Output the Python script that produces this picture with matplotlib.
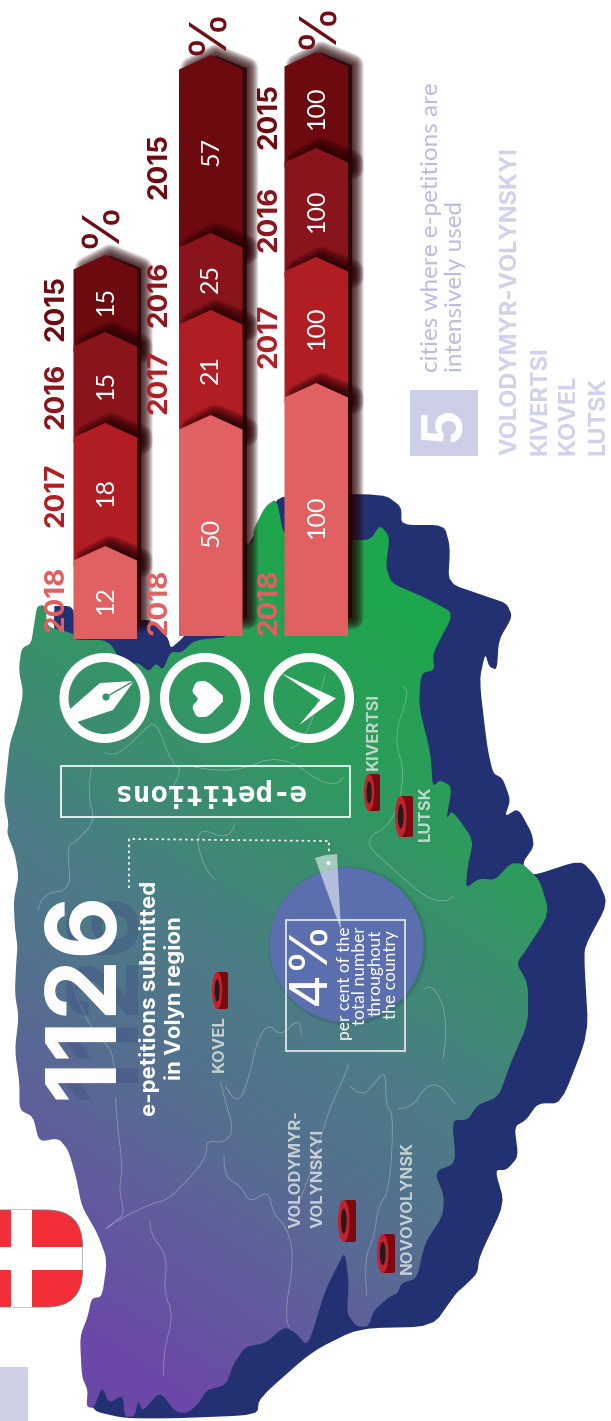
import numpy as np
from matplotlib import pyplot as plt
from matplotlib.colors import LinearSegmentedColormap
from matplotlib.patches import Circle, Ellipse, FancyBboxPatch, Polygon, Rectangle

plt.rcParams['font.family'] = ['Inter', 'DejaVu Sans']
LIGHT = ['Lato', 'DejaVu Sans']

# bars, bottom segment first
years = ['2018', '2017', '2016', '2015']
petitions = [12, 18, 15, 15]
supported = [50, 21, 25, 57]
answered = [100, 100, 100, 100]
# visible segment lengths, they do not follow the values
petitions_len = [93, 123, 91, 77]
supported_len = [221, 105, 77, 178]
answered_len = [253, 126, 109, 96]
year_colors = ['#e16061', '#b01e24', '#8a141c', '#6c0a10']

cities = ['VOLODYMYR-VOLYNSKYI', 'KIVERTSI', 'KOVEL', 'LUTSK']
share_lines = ['per cent of the', 'total number', 'throughout', 'the country']

west_a = [(108, 375), (95, 380), (88, 430), (80, 490), (55, 505), (48, 570), (60, 640), (45, 720), (25, 790),
          (18, 870), (10, 960), (22, 1030), (18, 1060), (38, 1120), (48, 1190), (35, 1260), (38, 1340), (45, 1400)]
west_b = [(42, 30), (38, 130), (48, 200), (38, 300), (50, 400), (50, 480), (85, 500), (100, 575), (150, 565),
          (175, 600), (195, 680), (210, 770), (250, 850), (275, 930), (262, 1040), (235, 1045), (225, 1100),
          (205, 1160), (210, 1280), (225, 1320), (222, 1370), (240, 1375), (262, 1310), (280, 1360), (315, 1335),
          (320, 1400), (345, 1400), (355, 1350), (365, 1385), (410, 1325), (450, 1385), (480, 1390), (510, 1360),
          (530, 1320), (580, 1305), (600, 1240), (630, 1190), (680, 1180), (730, 1130), (760, 1150), (790, 1190),
          (835, 1020), (865, 950), (885, 905), (895, 1000), (890, 1090), (915, 1130), (945, 1130), (960, 1080),
          (1000, 1040), (1020, 1030), (1030, 1000), (1070, 985), (1090, 880), (1135, 800), (1140, 740), (1115, 665),
          (1170, 640), (1160, 510), (1200, 510), (1225, 465), (1280, 440), (1310, 340), (1355, 220), (1355, 100),
          (1325, 40), (1350, 0)]
east_a = [(1410, 1300), (1385, 1200), (1340, 1150), (1310, 1150), (1270, 1200), (1230, 1195), (1195, 1225),
          (1200, 1160), (1215, 1080), (1160, 990), (1145, 1020), (1160, 920), (1130, 900), (1110, 920), (1105, 820),
          (1075, 680), (1080, 580), (1115, 570), (1110, 520), (1165, 400), (1110, 365), (1075, 345), (1005, 310),
          (990, 260), (1000, 170), (975, 135), (950, 180), (895, 180), (730, 180), (710, 55), (680, 80), (650, 150),
          (650, 190), (622, 190), (600, 470), (500, 480), (465, 518), (438, 515), (418, 570), (400, 550), (382, 575),
          (350, 545), (322, 572), (280, 480), (190, 480), (188, 460), (120, 440), (118, 380)]
back_a = [(120, 378), (190, 378), (190, 460), (280, 460), (355, 420), (385, 420), (430, 470), (440, 512), (600, 300),
          (640, 185), (690, 100), (720, 44), (985, 42), (1030, 80), (1030, 135), (1140, 135), (1155, 200), (1150, 310),
          (1250, 350), (1300, 370), (1315, 410), (1280, 480), (1275, 570), (1255, 560), (1245, 520), (1230, 600),
          (1250, 800), (1265, 880), (1290, 895), (1310, 960), (1295, 1010), (1330, 985), (1365, 1060), (1370, 1100),
          (1340, 1150), (1360, 1190), (1490, 1140), (1530, 1190), (1560, 1270), (1500, 1400)]
back_b = [(1500, 50), (1510, 250), (1440, 460), (1380, 460), (1350, 510), (1320, 530), (1330, 620), (1300, 660),
          (1270, 660), (1295, 760), (1230, 920), (1225, 970), (1190, 1010), (1170, 1030), (1110, 1130), (920, 1135),
          (800, 1205), (665, 1345), (660, 1395), (450, 1405), (320, 1405), (235, 1382), (230, 1300), (400, 800)]

borders_b = [
    [(295, 400), (300, 520), (315, 650), (305, 720), (320, 790), (300, 810), (255, 850)],
    [(255, 850), (310, 805), (390, 760), (430, 750), (490, 680), (530, 620), (530, 570), (575, 580), (600, 540),
     (575, 440), (560, 370)],
    [(385, 790), (385, 850), (430, 920), (420, 1020), (445, 1100), (420, 1200), (420, 1320)],
    [(575, 580), (575, 680), (620, 710), (640, 760), (690, 720), (700, 790), (735, 830), (755, 920), (730, 1100),
     (750, 1150)],
    [(735, 830), (790, 700), (840, 490), (880, 390), (905, 310)],
    [(880, 390), (930, 440), (960, 400), (990, 360), (990, 470), (1010, 490), (1000, 720), (970, 770), (960, 860),
     (935, 930), (945, 1100)],
    [(1000, 480), (1060, 470), (1090, 410), (1130, 400), (1190, 500)],
    [(1130, 400), (1150, 200), (1110, 100), (1075, 130)],
    [(560, 370), (610, 470), (640, 380), (660, 270), (690, 220), (720, 260), (770, 200), (775, 290)],
    [(295, 400), (290, 300), (240, 250), (180, 100), (200, 60)],
]
borders_a = [
    [(250, 810), (300, 830), (370, 750), (400, 720), (440, 850), (470, 870), (410, 980)],
    [(240, 810), (225, 950), (245, 1020), (200, 1080), (170, 1100), (185, 1230), (110, 1240), (90, 1320)],
    [(610, 1000), (590, 1080), (500, 1040), (520, 1160), (570, 1220)],
    [(1030, 610), (1050, 640), (1010, 770), (1040, 880), (1010, 1030), (930, 1080), (1000, 1160), (1120, 1280),
     (1190, 1230)],
    [(720, 820), (790, 780), (860, 470)],
    [(440, 850), (600, 880), (720, 820), (850, 930), (900, 870)],
]


def crop_a(pts):
    return [(x / 2.566, 480 + y / 3) for x, y in pts]


def crop_b(pts):
    return [(x / 2.566, 950 + y / 3) for x, y in pts]


def smooth(pts, n=2, cut=0.17):
    # corner cutting, closed outline
    pts = np.array(pts, dtype=float)
    for _ in range(n):
        nxt = np.roll(pts, -1, axis=0)
        pts = np.column_stack([(1 - cut) * pts + cut * nxt, cut * pts + (1 - cut) * nxt]).reshape(-1, 2)
    return pts


def smooth_open(pts, n=2):
    pts = np.array(pts, dtype=float)
    for _ in range(n):
        a, b = pts[:-1], pts[1:]
        pts = np.column_stack([0.75 * a + 0.25 * b, 0.25 * a + 0.75 * b]).reshape(-1, 2)
    return pts


fig = plt.figure(figsize=(6.11, 14.21), dpi=100)
ax = fig.add_axes([0, 0, 1, 1])

# map
back = smooth(crop_a(back_a) + crop_b(back_b))
ax.add_patch(Polygon(back, closed=True, fc='#233173', ec='none', zorder=1))

front = smooth(crop_a(west_a) + crop_b(west_b) + crop_a(east_a))
front_patch = Polygon(front, closed=True, fc='none', ec='none', zorder=2)
ax.add_patch(front_patch)
gx, gy = np.meshgrid(np.arange(0, 611, 2), np.arange(0, 1421, 2))
grad = (-0.55 * gx + 0.83 * gy - 289) / 771
stops = [(0, '#1ea64c'), (0.21, '#2f9a5e'), (0.49, '#4b7d85'), (0.66, '#55708f'), (0.87, '#6358a0'), (1, '#6b48a8')]
cmap = LinearSegmentedColormap.from_list('volyn', stops)
im = ax.imshow(grad, extent=(0, 611, 1421, 0), cmap=cmap, vmin=0, vmax=1, aspect='auto', zorder=2)
im.set_clip_path(front_patch)
ax.set_xlim(0, 611)
ax.set_ylim(1421, 0)
ax.axis('off')

for line in borders_b:
    p = smooth_open(crop_b(line))
    ax.plot(p[:, 0], p[:, 1], color='#c8d2d2', lw=0.6, alpha=0.45, zorder=3)
for line in borders_a:
    p = smooth_open(crop_a(line))
    ax.plot(p[:, 0], p[:, 1], color='#c8d2d2', lw=0.6, alpha=0.45, zorder=3)


# bars
def draw_bar(x0, x1, base, lengths, values, label_x, label_ys, pct_xy):
    xm = (x0 + x1) / 2
    tops = base - np.cumsum(lengths)
    notch = 14.5
    z = 10
    for i in range(3, -1, -1):
        top = tops[i]
        low = tops[i - 1] + 20 if i else base
        xs = [x0, x0, xm, x1, x1]
        ys = [low, top + notch, top, top + notch, low]
        # blurred shadow from stacked strokes, only right and above
        sh_low = low if i else base - 18
        sx = [x0 + 13, x0 + 13, xm + 5, x1 + 4, x1 + 4]
        sy = [sh_low, top + notch - 1, top + 1, top + notch - 1, sh_low]
        for w in np.linspace(17, 0.5, 18):
            ax.fill(sx, sy, fc='#2a0305', ec='#2a0305', lw=w, alpha=0.085, joinstyle='round', zorder=z)
        ax.fill(xs, ys, fc=year_colors[i], ec='none', zorder=z + 1)
        mid = (top + notch + (tops[i - 1] if i else base)) / 2
        ax.text(xm, mid, str(values[i]), rotation=90, ha='center', va='center', color='white', fontsize=18,
                family=LIGHT, zorder=z + 2)
        z += 3
    for i in range(4):
        ax.text(label_x, label_ys[i], years[i], rotation=90, ha='center', va='center', color=year_colors[i],
                fontsize=20, fontweight='bold', zorder=40)
    ax.text(pct_xy[0], pct_xy[1], '%', rotation=90, ha='center', va='center', color='#6e0c12', fontsize=36, zorder=40)


draw_bar(73.5, 137, 639, petitions_len, petitions, 56.5, [599, 495, 396, 308], (101, 223))
draw_bar(179, 242.5, 636, supported_len, supported, 160, [602, 382, 294, 166], (208, 30))
draw_bar(284.5, 348, 636, answered_len, answered, 270, [602, 336, 219, 116], (318, 24))

# icons
for cx in (104.5, 205, 309):
    ax.add_patch(Circle((cx, 698), 40.5, fc='none', ec='white', lw=6.5, zorder=5))
nib = [(134, 681), (100, 683), (69, 710), (77, 722), (113, 710)]
ax.add_patch(Polygon(nib, closed=True, fc='white', ec='none', zorder=6))
ax.plot([133, 106], [681.5, 697], color='#35926a', lw=1.0, zorder=7)
ax.add_patch(Circle((106, 697), 3.6, fc='#35926a', ec='none', zorder=7))
heart = smooth(crop_a([(580, 655), (530, 602), (503, 605), (492, 635), (510, 657), (492, 680), (505, 712), (535, 710)]), 1)
ax.add_patch(Polygon(heart, closed=True, fc='white', ec='none', zorder=6))
ax.add_patch(Polygon(crop_a([(722, 580), (862, 655), (768, 735), (822, 660)]), closed=True, fc='white', ec='none', zorder=6))

# e-petitions box
ax.add_patch(Rectangle((61, 766), 289, 51, fc='none', ec='white', lw=1.2, zorder=5))
ax.text(208, 792, 'e-petitions', rotation=180, ha='center', va='center', color='white', fontsize=21,
        family='DejaVu Sans Mono', fontweight='bold', zorder=6)

# headline
ax.text(109, 995, '1126', rotation=90, ha='center', va='center', color='#3d4f83', alpha=0.4, fontsize=70,
        fontweight='bold', zorder=4)
ax.text(87, 995, '1126', rotation=90, ha='center', va='center', color='white', fontsize=70, fontweight='bold', zorder=6)
ax.text(162, 998, 'e-petitions submitted\nin Volyn region', rotation=90, ha='center', va='center', color='white',
        fontsize=16, fontweight='bold', linespacing=1.25, multialignment='center', zorder=6)

# dotted leader
ax.plot([129, 129, 329, 329], [888, 839, 841, 852], color='white', lw=1.2, ls=(0, (1.5, 2)), zorder=6)

# 4 per cent circle
for r, a in zip((80, 79, 78), (0.06, 0.08, 0.1)):
    ax.add_patch(Circle((348, 946), r, fc='#1f3a4a', ec='none', alpha=a, zorder=5))
ax.add_patch(Circle((346.5, 945), 77, fc='#5b6fae', ec='none', zorder=5))
ax.add_patch(Polygon([(315, 858), (326, 855), (337, 854), (341, 930)], closed=True, fc='white', ec='none', alpha=0.55, zorder=6))
ax.add_patch(Circle((328.5, 863), 2, fc='white', ec='none', zorder=7))
ax.add_patch(Rectangle((286, 920), 119, 131, fc='none', ec='#e8ecef', lw=1.2, zorder=7))
ax.text(312, 962, '4%', rotation=90, ha='center', va='center', color='white', fontsize=38, zorder=8)
for line, x, y in zip(share_lines, [345, 360, 376, 391], [926, 926, 930, 930]):
    ax.text(x, y, line, rotation=90, ha='center', va='top', color='white', fontsize=12.5, zorder=8, family=LIGHT)


# city markers
def tyre(x0, x1, y0, y1):
    w = x1 - x0
    h = y1 - y0
    ax.add_patch(FancyBboxPatch((x0 + w * 0.3, y0), w * 0.7, h, boxstyle='round,pad=0,rounding_size=2', fc='#7a0a10',
                                ec='none', zorder=8))
    ax.add_patch(Ellipse((x0 + w * 0.32, (y0 + y1) / 2), w * 0.64, h, fc='#c3222c', ec='none', zorder=9))
    ax.add_patch(Ellipse((x0 + w * 0.32, (y0 + y1) / 2), w * 0.32, h * 0.6, fc='#241a1c', ec='none', zorder=10))


tyre(364, 380, 774, 811)
tyre(395, 413, 796, 837)
tyre(212, 228, 972, 1009)
tyre(338, 356, 1200, 1242)
tyre(377, 395, 1234, 1273)

city_kw = dict(rotation=90, color='#dfe5e5', alpha=0.82, fontsize=12, fontweight='bold', zorder=8, ha='center')
ax.text(373, 731, 'KIVERTSI', va='center', **city_kw)
ax.text(425, 813, 'LUTSK', va='center', **city_kw)
ax.text(219, 1044, 'KOVEL', va='center', **city_kw)
ax.text(407, 1207, 'NOVOVOLYNSK', va='center', **city_kw)
ax.text(296, 1228, 'VOLODYMYR-', va='bottom', **city_kw)
ax.text(318, 1228, 'VOLYNSKYI', va='bottom', **city_kw)

# flag
flag_clip = FancyBboxPatch((-60, 1210), 142.5, 97, boxstyle='round,pad=0,rounding_size=36', fc='#f22e38', ec='#777777',
                           lw=0.6, zorder=5)
ax.add_patch(flag_clip)
r1 = Rectangle((-5, 1247), 100, 23, fc='white', ec='none', zorder=6)
r2 = Rectangle((11, 1205), 21, 110, fc='white', ec='none', zorder=6)
for r in (r1, r2):
    ax.add_patch(r)
    r.set_clip_path(flag_clip)

ax.add_patch(Rectangle((0, 1367), 28, 54, fc='#cfd0e6', ec='none', zorder=5))

# five cities
ax.add_patch(Rectangle((410, 390), 68, 66, fc='#cdcee8', ec='none', zorder=5))
ax.text(444, 424, '5', rotation=90, ha='center', va='center', color='white', fontsize=40, fontweight='bold', zorder=6)
ax.text(431, 372, 'cities where e-petitions are', rotation=90, ha='center', va='bottom', color='#babbe2', fontsize=17.5,
        zorder=6, family=LIGHT)
ax.text(455, 372, 'intensively used', rotation=90, ha='center', va='bottom', color='#babbe2', fontsize=17.5,
        zorder=6, family=LIGHT)
for name, x in zip(cities, [510, 540, 569, 598]):
    ax.text(x, 455, name, rotation=90, ha='center', va='bottom', color='#d0d1ea', fontsize=17, fontweight='bold', zorder=6)

fig.savefig('out.png', dpi=100)
